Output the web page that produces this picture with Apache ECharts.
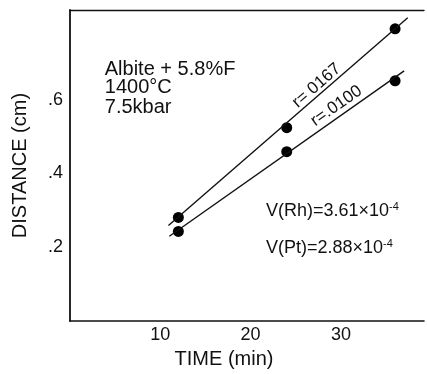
<!DOCTYPE html>
<html>
<head>
<meta charset="utf-8">
<script src="https://cdn.jsdelivr.net/npm/echarts@6/dist/echarts.min.js"></script>
<style>
  html, body { margin: 0; padding: 0; background: #fff; }
  #chart { width: 427px; height: 374px; }
</style>
</head>
<body>
<div id="chart"></div>
<script>
// measured points (time in min, distance in cm)
const timeMin = [12, 24, 36];
const rhDistance = [0.281, 0.524, 0.792];
const ptDistance = [0.243, 0.459, 0.651];

// fitted lines, end points
const rhFitTime = [10.9, 37.4];
const rhFitDist = [0.259, 0.822];
const ptFitTime = [11.0, 37.0];
const ptFitDist = [0.230, 0.678];

// tick labels
const xTicks = [10, 20, 30];
const yTicks = [0.2, 0.4, 0.6];
const yTickLabels = ['.2', '.4', '.6'];

const FONT = 'Liberation Sans';
const pairs = (xs, ys) => xs.map((x, i) => [x, ys[i]]);

const chart = echarts.init(document.getElementById('chart'));

const option = {
    backgroundColor: '#fff',
    animation: false,
    grid: { left: 70, right: 0, top: 10, bottom: 52, show: false },
    xAxis: [{
        type: 'value',
        min: 0, max: 39.2, interval: 10,
        name: 'TIME (min)',
        nameLocation: 'middle',
        nameGap: 21,
        nameTextStyle: { fontFamily: FONT, fontSize: 20, color: '#111', padding: [0, 46, 0, 0] },
        axisLine: { show: true, lineStyle: { color: '#111', width: 1.6 } },
        axisTick: { show: false },
        splitLine: { show: false },
        axisLabel: {
            margin: 5,
            fontFamily: FONT, fontSize: 18, color: '#111',
            formatter: v => xTicks.some(t => Math.abs(t - v) < 1e-6) ? String(v) : ''
        }
    }, {
        type: 'value',
        position: 'top',
        min: 0, max: 39.2,
        axisLine: { show: true, lineStyle: { color: '#111', width: 1.4 } },
        axisTick: { show: false },
        axisLabel: { show: false },
        splitLine: { show: false }
    }],
    yAxis: {
        type: 'value',
        min: 0, max: 0.843, interval: 0.2,
        name: 'DISTANCE (cm)',
        nameLocation: 'middle',
        nameGap: 40,
        nameTextStyle: { fontFamily: FONT, fontSize: 20, color: '#111' },
        axisLine: { show: true, lineStyle: { color: '#111', width: 1.8 } },
        axisTick: { show: false },
        splitLine: { show: false },
        axisLabel: {
            margin: 7,
            fontFamily: FONT, fontSize: 18, color: '#111',
            formatter: v => {
                const i = yTicks.findIndex(t => Math.abs(t - v) < 1e-6);
                return i >= 0 ? yTickLabels[i] : '';
            }
        }
    },
    series: [
        {
            name: 'Rh fit', type: 'line', data: pairs(rhFitTime, rhFitDist),
            symbol: 'none', lineStyle: { color: '#111', width: 1.4 }
        },
        {
            name: 'Pt fit', type: 'line', data: pairs(ptFitTime, ptFitDist),
            symbol: 'none', lineStyle: { color: '#111', width: 1.4 }
        },
        {
            name: 'Rh', type: 'scatter', data: pairs(timeMin, rhDistance),
            symbol: 'circle', symbolSize: 11, itemStyle: { color: '#000', opacity: 1 }
        },
        {
            name: 'Pt', type: 'scatter', data: pairs(timeMin, ptDistance),
            symbol: 'circle', symbolSize: 11, itemStyle: { color: '#000', opacity: 1 }
        }
    ]
};

chart.setOption(option);

// annotations placed in data coordinates
const px = (x, y) => chart.convertToPixel({ gridIndex: 0 }, [x, y]);
const slopeAngle = (xs, ys) => {
    const a = px(xs[0], ys[0]), b = px(xs[1], ys[1]);
    return Math.atan2(a[1] - b[1], b[0] - a[0]);
};

const text = (x, y, str, size, extra) => {
    const p = px(x, y);
    return Object.assign({
        type: 'text', x: p[0], y: p[1],
        style: Object.assign({
            text: str, fill: '#111',
            font: size + 'px "' + FONT + '"',
            align: 'left', verticalAlign: 'middle'
        }, extra && extra.style)
    }, extra && extra.el);
};

const sup = { sup: { fontSize: 11, verticalAlign: 'bottom', padding: [0, 0, 9, 0], fontFamily: FONT, fill: '#111' } };

chart.setOption({
    graphic: [
        text(3.85, 0.681, 'Albite + 5.8%F', 20),
        text(3.85, 0.632, '1400°C', 20),
        text(3.85, 0.578, '7.5kbar', 20),
        text(21.7, 0.297, 'V(Rh)=3.61×10{sup|-4}', 18, { style: { rich: sup } }),
        text(21.7, 0.197, 'V(Pt)=2.88×10{sup|-4}', 18, { style: { rich: sup } }),
        text(27.3, 0.638, 'r= 0167', 17, {
            style: { align: 'center' },
            el: { rotation: slopeAngle(rhFitTime, rhFitDist) }
        }),
        text(29.5, 0.583, 'r=.0100', 17, {
            style: { align: 'center' },
            el: { rotation: slopeAngle(ptFitTime, ptFitDist) }
        })
    ]
});
</script>
</body>
</html>
